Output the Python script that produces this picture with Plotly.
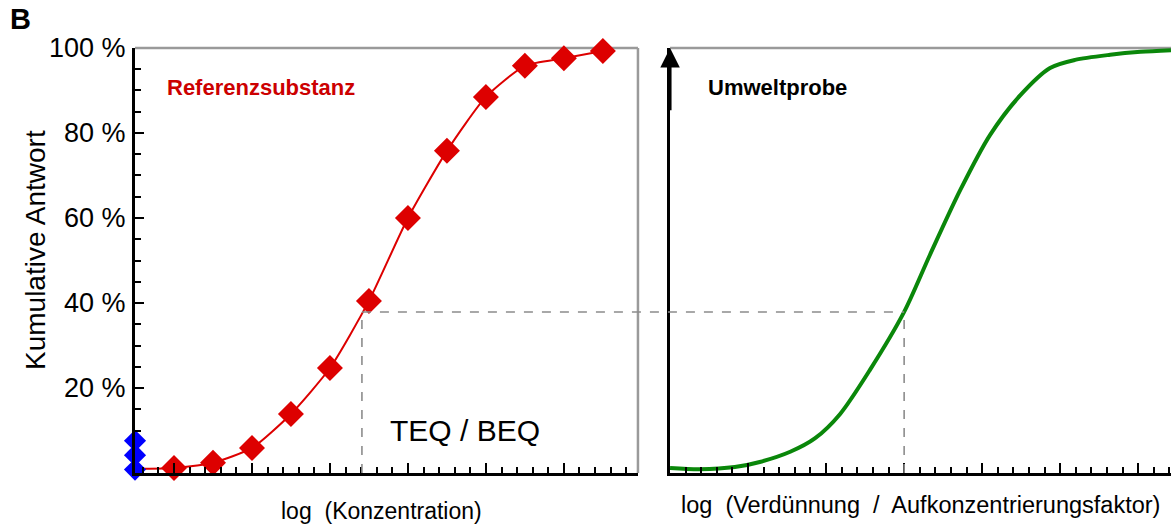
import plotly.graph_objects as go

# ---------------- data ----------------
# Reference substance (left panel): log concentration (arbitrary log units), cumulative response in %
ref_x = [0.0, 0.5, 1.0, 1.5, 2.0, 2.5, 3.0, 3.5, 4.0, 4.5, 5.0, 5.5]
ref_y = [1.2, 2.4, 5.9, 13.9, 24.7, 40.5, 60.0, 75.8, 88.5, 95.8, 97.6, 99.3]
# line start at axis origin
ref_line_x = [-0.5] + ref_x
ref_line_y = [1.0] + ref_y

# blank / control points on the y axis
blank_x = [-0.5, -0.5, -0.5]
blank_y = [0.8, 4.2, 7.6]

# Environmental sample (right panel)
env_x = [0.0, 0.38, 0.83, 1.15, 1.54, 1.86, 2.18, 2.56, 3.0, 3.33, 3.72, 4.1, 4.49, 4.87, 5.19, 5.64, 6.03, 6.42]
env_y = [1.2, 0.9, 1.4, 2.6, 5.0, 8.2, 13.9, 24.2, 37.9, 51.3, 66.6, 79.5, 88.9, 95.3, 97.2, 98.4, 99.1, 99.5]

# equivalence construction
teq_x_left = 2.41
teq_x_right = 3.0
teq_level = 37.9

y_ticks = [20, 40, 60, 80, 100]
y_tick_text = ["20 %", "40 %", "60 %", "80 %", "100 %"]

x1_range = [-0.5, 5.95]
x2_range = [0.0, 6.42]
y_range = [0, 100]
dom1 = [0.1153, 0.5448]
dom2 = [0.5722, 1.0]
ydom = [0.0973, 0.9084]

FONT = "Liberation Sans, Arial, sans-serif"
RED = "#dd0000"
GREEN = "#0a870a"
GRAY = "#9a9a9a"

fig = go.Figure()

fig.add_trace(go.Scatter(x=ref_line_x, y=ref_line_y, mode="lines",
                         line=dict(color=RED, width=2, shape="spline", smoothing=0.6),
                         xaxis="x", yaxis="y", showlegend=False, hoverinfo="skip", cliponaxis=False))
fig.add_trace(go.Scatter(x=ref_x, y=ref_y, mode="markers",
                         marker=dict(symbol="diamond", size=20, color=RED),
                         xaxis="x", yaxis="y", showlegend=False, cliponaxis=False))
fig.add_trace(go.Scatter(x=blank_x, y=blank_y, mode="markers",
                         marker=dict(symbol="diamond", size=17, color="#0000ff"),
                         xaxis="x", yaxis="y", showlegend=False, cliponaxis=False))
fig.add_trace(go.Scatter(x=env_x, y=env_y, mode="lines",
                         line=dict(color=GREEN, width=4, shape="spline", smoothing=0.8),
                         xaxis="x2", yaxis="y2", showlegend=False, cliponaxis=False))

tickstyle = dict(ticks="inside", tickcolor="black", tickwidth=2)

fig.update_layout(
    width=1171, height=524,
    margin=dict(l=0, r=0, t=0, b=0, pad=0, autoexpand=False),
    paper_bgcolor="white", plot_bgcolor="white",
    showlegend=False,
    font=dict(family=FONT, color="black"),
    xaxis=dict(domain=dom1, range=x1_range, anchor="y", showgrid=False, zeroline=False, automargin=False,
               showline=True, linecolor="black", linewidth=3,
               tick0=0, dtick=1, ticklen=10, showticklabels=False, **tickstyle,
               minor=dict(dtick=0.2, ticklen=6, tickwidth=2, ticks="inside", tickcolor="black")),
    yaxis=dict(domain=ydom, range=y_range, anchor="x", showgrid=False, zeroline=False, automargin=False,
               showline=True, linecolor="black", linewidth=3,
               tickvals=y_ticks, ticktext=y_tick_text, ticklen=9, **tickstyle,
               tickfont=dict(size=27, color="black"), ticklabelstandoff=1,
               minor=dict(tickvals=[10, 15, 25, 30, 35, 45, 50, 55, 65, 70, 75, 85, 90, 95],
                          ticklen=6, tickwidth=2, ticks="inside", tickcolor="black")),
    xaxis2=dict(domain=dom2, range=x2_range, anchor="y2", showgrid=False, zeroline=False, automargin=False,
                showline=True, linecolor="black", linewidth=3,
                tick0=0, dtick=1, ticklen=10, showticklabels=False, **tickstyle,
                minor=dict(dtick=0.2, ticklen=6, tickwidth=2, ticks="inside", tickcolor="black")),
    yaxis2=dict(domain=ydom, range=y_range, anchor="x2", showgrid=False, zeroline=False, automargin=False,
                showline=True, linecolor="black", linewidth=3, ticks="", showticklabels=False),
)

# frame lines (gray top/right)
fig.add_shape(type="line", xref="x domain", yref="y domain", x0=0, x1=1, y0=1, y1=1,
              line=dict(color=GRAY, width=2.5), layer="below")
fig.add_shape(type="line", xref="x domain", yref="y domain", x0=1, x1=1, y0=0, y1=1,
              line=dict(color=GRAY, width=2.5), layer="below")
fig.add_shape(type="line", xref="x2 domain", yref="y2 domain", x0=0, x1=1, y0=1, y1=1,
              line=dict(color=GRAY, width=2.5), layer="below")

# dashed construction lines
def to_paper(v, rng, dom):
    return dom[0] + (v - rng[0]) / (rng[1] - rng[0]) * (dom[1] - dom[0])

dash = dict(color="#8c8c8c", width=1.6, dash="dash")
fig.add_shape(type="line", xref="paper", yref="y",
              x0=to_paper(teq_x_left, x1_range, dom1), x1=to_paper(teq_x_right, x2_range, dom2),
              y0=teq_level, y1=teq_level, line=dash)
fig.add_shape(type="line", xref="x", yref="y", x0=teq_x_left, x1=teq_x_left,
              y0=0, y1=teq_level, line=dash)
fig.add_shape(type="line", xref="x2", yref="y2", x0=teq_x_right, x1=teq_x_right,
              y0=0, y1=teq_level, line=dash)

# arrow on right y axis
fig.add_annotation(x=0, y=100, xref="x2", yref="y2", ax=0, ay=85, axref="x2", ayref="y2",
                   showarrow=True, arrowhead=2, arrowsize=1.3, arrowwidth=3, arrowcolor="black",
                   text="")

# texts
fig.add_annotation(x=0.007, y=0.998, xref="paper", yref="paper", text="<b>B</b>",
                   showarrow=False, xanchor="left", yanchor="top", font=dict(size=29, color="black"))
fig.add_annotation(x=0.06, y=0.906, xref="x domain", yref="y domain", text="<b>Referenzsubstanz</b>",
                   showarrow=False, xanchor="left", yanchor="middle", font=dict(size=22, color="#cc0000"))
fig.add_annotation(x=0.072, y=0.906, xref="x2 domain", yref="y2 domain", text="<b>Umweltprobe</b>",
                   showarrow=False, xanchor="left", yanchor="middle", font=dict(size=22, color="black"))
fig.add_annotation(x=0.503, y=0.101, xref="x domain", yref="y domain", text="TEQ / BEQ",
                   showarrow=False, xanchor="left", yanchor="middle", font=dict(size=30, color="black"))
fig.add_annotation(x=0.49, y=1 - 511 / 524, xref="x domain", yref="paper", text="log  (Konzentration)",
                   showarrow=False, xanchor="center", yanchor="middle", font=dict(size=23, color="black"))
fig.add_annotation(x=0.5, y=1 - 505 / 524, xref="x2 domain", yref="paper",
                   text="log  (Verdünnung  /  Aufkonzentrierungsfaktor)",
                   showarrow=False, xanchor="center", yanchor="middle", font=dict(size=23.5, color="black"))
fig.add_annotation(x=35 / 1171, y=1 - 250 / 524, xref="paper", yref="paper", text="Kumulative Antwort",
                   textangle=-90, showarrow=False, xanchor="center", yanchor="middle",
                   font=dict(size=28, color="black"))

fig.write_html("out.html", config={"displayModeBar": False},
               post_script="document.body.style.margin='0';document.body.style.overflow='hidden';")
